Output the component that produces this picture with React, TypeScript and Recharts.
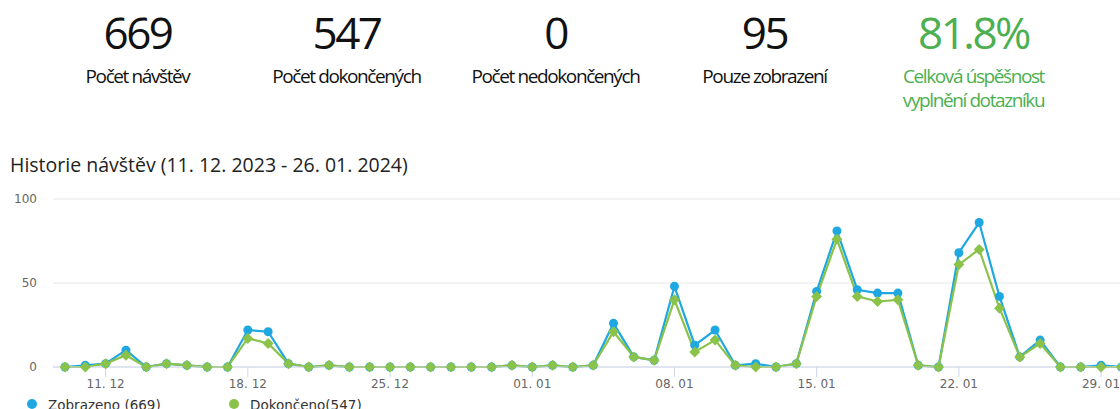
import React from "react";
import { LineChart, Line, XAxis, YAxis, CartesianGrid, Legend } from "recharts";

const kpiValues = ["669", "547", "0", "95", "81.8%"];
const kpiLabels = [
  ["Počet návštěv"],
  ["Počet dokončených"],
  ["Počet nedokončených"],
  ["Pouze zobrazení"],
  ["Celková úspěšnost", "vyplnění dotazníku"],
];
const kpiGreen = [false, false, false, false, true];

const title = "Historie návštěv (11. 12. 2023 - 26. 01. 2024)";

const dates = [
  "09. 12", "10. 12", "11. 12", "12. 12", "13. 12", "14. 12", "15. 12", "16. 12",
  "17. 12", "18. 12", "19. 12", "20. 12", "21. 12", "22. 12", "23. 12", "24. 12",
  "25. 12", "26. 12", "27. 12", "28. 12", "29. 12", "30. 12", "31. 12",
  "01. 01", "02. 01", "03. 01", "04. 01", "05. 01", "06. 01", "07. 01", "08. 01",
  "09. 01", "10. 01", "11. 01", "12. 01", "13. 01", "14. 01", "15. 01", "16. 01",
  "17. 01", "18. 01", "19. 01", "20. 01", "21. 01", "22. 01", "23. 01", "24. 01",
  "25. 01", "26. 01", "27. 01", "28. 01", "29. 01", "30. 01",
];

const zobrazeno = [
  0, 1, 2, 10, 0, 2, 1, 0, 0, 22, 21, 2, 0, 1, 0, 0,
  0, 0, 0, 0, 0, 0, 1,
  0, 1, 0, 1, 26, 6, 4, 48, 13, 22, 1, 2, 0, 2, 45, 81,
  46, 44, 44, 1, 0, 68, 86, 42, 6, 16, 0, 0, 1, 0,
];

const dokonceno = [
  0, 0, 2, 7, 0, 2, 1, 0, 0, 17, 14, 2, 0, 1, 0, 0,
  0, 0, 0, 0, 0, 0, 1,
  0, 1, 0, 1, 21, 6, 4, 40, 9, 16, 1, 0, 0, 2, 42, 76,
  42, 39, 40, 1, 0, 61, 70, 35, 6, 14, 0, 0, 0, 0,
];

const xTicks = [2, 9, 16, 23, 30, 37, 44, 51];
const yTicks = [0, 50, 100];

const seriesNames = ["Zobrazeno (669)", "Dokončeno(547)"];
const BLUE = "#1EA7E1";
const GREEN = "#8BC34A";

const data = dates.map((d, i) => ({
  i,
  label: d,
  zobrazeno: zobrazeno[i],
  dokonceno: dokonceno[i],
}));

const chartFont = "'DejaVu Sans', Verdana, sans-serif";
const uiFont = "'Open Sans', 'Noto Sans', sans-serif";

const Diamond = (p: any) => {
  const { cx, cy, index } = p;
  if (cx == null || cy == null) return <g key={index} />;
  const r = 5.5;
  return (
    <path
      key={index}
      d={`M${cx},${cy - r}L${cx + r},${cy}L${cx},${cy + r}L${cx - r},${cy}Z`}
      fill={GREEN}
    />
  );
};

const LegendContent = () => (
  <div style={{ position: "relative", height: 20, fontFamily: chartFont, fontSize: 13.5, color: "#333" }}>
    <span style={{ position: "absolute", left: 27, top: 5, width: 10, height: 10, borderRadius: 5, background: BLUE }} />
    <span style={{ position: "absolute", left: 48, top: 1, lineHeight: "20px", whiteSpace: "nowrap" }}>{seriesNames[0]}</span>
    <span style={{ position: "absolute", left: 229, top: 5, width: 10, height: 10, borderRadius: 5, background: GREEN }} />
    <span style={{ position: "absolute", left: 250, top: 1, lineHeight: "20px", whiteSpace: "nowrap" }}>{seriesNames[1]}</span>
  </div>
);

export default function App() {
  return (
    <div
      style={{
        position: "absolute",
        left: 0,
        top: 0,
        width: 1120,
        height: 409,
        overflow: "hidden",
        background: "#fff",
      }}
    >
      {kpiValues.map((v, k) => {
        const cx = 137 + k * 209;
        const color = kpiGreen[k] ? "#4CAF50" : "#111";
        return (
          <div key={k}>
            <div
              style={{
                position: "absolute",
                left: cx - 104,
                width: 209,
                top: 10,
                textAlign: "center",
                fontFamily: uiFont,
                fontSize: 44,
                lineHeight: "44px",
                letterSpacing: "-2.5px",
                color,
              }}
            >
              {v}
            </div>
            <div
              style={{
                position: "absolute",
                left: cx - 104,
                width: 209,
                top: 64,
                textAlign: "center",
                fontFamily: uiFont,
                fontSize: 19,
                lineHeight: "24px",
                letterSpacing: "-1.4px",
                color,
              }}
            >
              {kpiLabels[k].map((l, j) => (
                <div key={j}>{l}</div>
              ))}
            </div>
          </div>
        );
      })}

      <div
        style={{
          position: "absolute",
          left: 10,
          top: 153,
          fontFamily: uiFont,
          fontSize: 19.5,
          lineHeight: "24px",
          color: "#222",
          whiteSpace: "nowrap",
        }}
      >
        {title}
      </div>

      <div style={{ position: "absolute", left: 0, top: 190 }}>
        <LineChart
          width={1162}
          height={240}
          data={data}
          margin={{ top: 9, right: 0, bottom: 33, left: 0 }}
        >
          <CartesianGrid horizontal vertical={false} stroke="#e6e6e6" />
          <XAxis
            type="number"
            dataKey="i"
            domain={[-0.59, 54]}
            allowDataOverflow
            ticks={xTicks}
            interval={0}
            tickFormatter={(i: number) => dates[i]}
            axisLine={{ stroke: "#ccd6eb" }}
            tickLine={{ stroke: "#ccd6eb" }}
            tickSize={10}
            tickMargin={2}
            height={30}
            tick={{ fill: "#666", fontSize: 12, fontFamily: chartFont }}
          />
          <YAxis
            domain={[0, 100]}
            ticks={yTicks}
            axisLine={false}
            tickLine={false}
            tickSize={6}
            tickMargin={10}
            width={53}
            tick={{ fill: "#666", fontSize: 12, fontFamily: chartFont }}
          />
          <Legend
            layout="horizontal"
            verticalAlign="middle"
            align="center"
            wrapperStyle={{ left: 0, top: 204, width: 500, height: 20 }}
            content={LegendContent}
          />
          <Line
            type="linear"
            dataKey="zobrazeno"
            stroke={BLUE}
            strokeWidth={2.2}
            dot={{ r: 4.5, fill: BLUE, stroke: BLUE, strokeWidth: 0 }}
            activeDot={false}
            isAnimationActive={false}
          />
          <Line
            type="linear"
            dataKey="dokonceno"
            stroke={GREEN}
            strokeWidth={2.2}
            dot={Diamond}
            activeDot={false}
            isAnimationActive={false}
          />
        </LineChart>
      </div>
    </div>
  );
}
